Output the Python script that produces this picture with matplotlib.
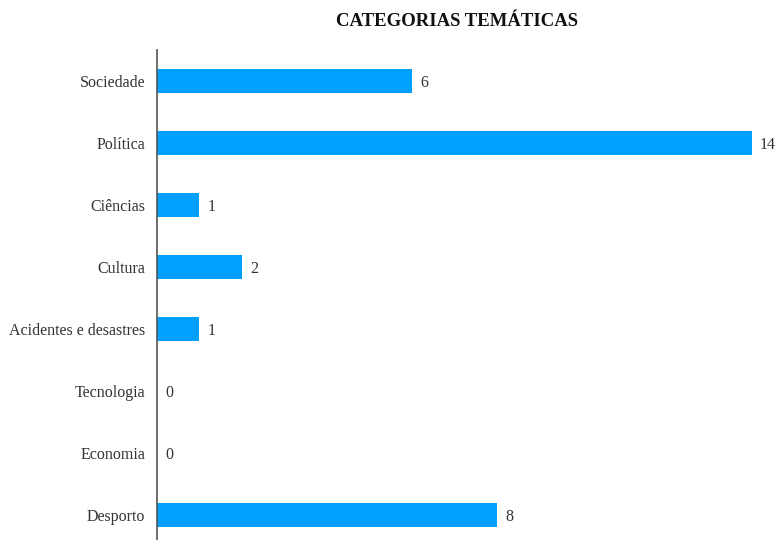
import matplotlib.pyplot as plt
import numpy as np

categories = ['Sociedade', 'Política', 'Ciências', 'Cultura',
              'Acidentes e desastres', 'Tecnologia', 'Economia', 'Desporto']
counts = [6, 14, 1, 2, 1, 0, 0, 8]

plt.rcParams['font.family'] = ['Liberation Serif', 'DejaVu Serif']

fig = plt.figure(figsize=(7.77, 5.40), dpi=100)
ax = fig.add_axes([157 / 777, -6 / 540, 620 / 777, 496 / 540])

y = np.arange(len(categories))
bars = ax.barh(y, counts, height=0.4, color='#00a0ff')
ax.set_ylim(len(categories) - 0.5, -0.5)
ax.set_xlim(0, 14.6)

ax.set_yticks(y)
ax.set_yticklabels(categories, fontsize=11.5, color='#333333')
ax.tick_params(axis='y', length=0, pad=8.6)
ax.set_xticks([])

for side in ['top', 'right', 'bottom']:
    ax.spines[side].set_visible(False)
ax.spines['left'].set_color('#555555')
ax.spines['left'].set_linewidth(1.2)

# value labels next to each bar
labels = ax.bar_label(bars, labels=[str(c) for c in counts], padding=6,
                      fontsize=11.5, color='#333333')
for t in labels:
    t.set_va('center_baseline')

fig.text(457 / 777, 1 - 22 / 540, 'CATEGORIAS TEMÁTICAS', ha='center', va='center',
         fontsize=13.5, fontweight='bold', color='#111111')

fig.savefig('out.png', dpi=100)
